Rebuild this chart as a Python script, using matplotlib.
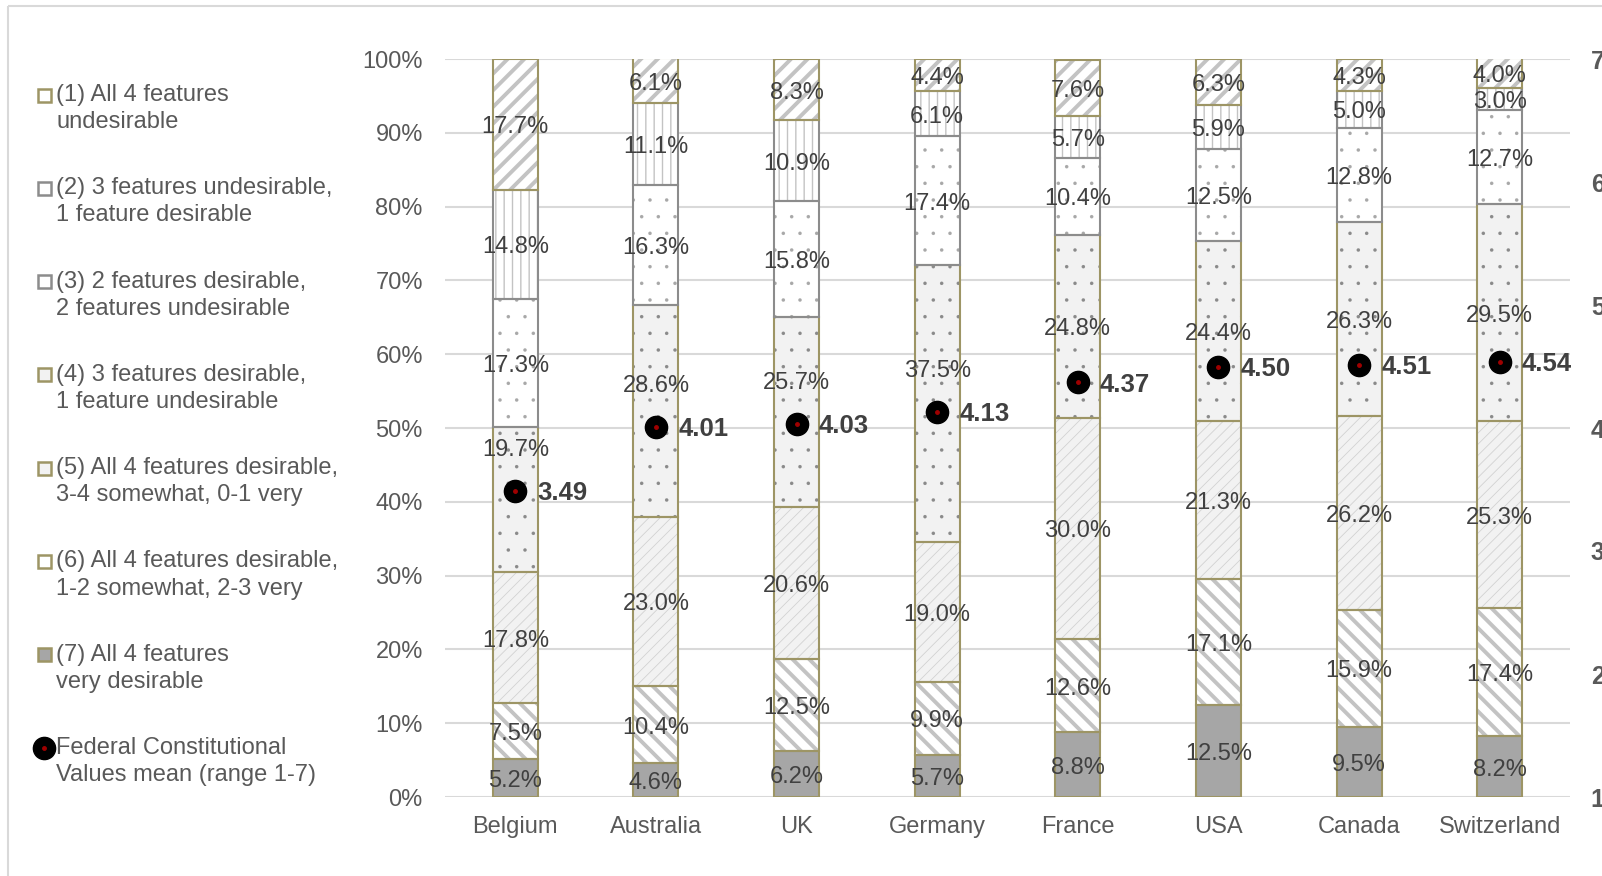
import numpy as np
import matplotlib
matplotlib.use("Agg")
import matplotlib.pyplot as plt
from matplotlib.patches import Rectangle

plt.rcParams['font.family'] = ['Liberation Sans', 'DejaVu Sans']

# Data (percent of respondents, stacked bottom -> top)
countries = ["Belgium", "Australia", "UK", "Germany", "France", "USA", "Canada", "Switzerland"]
all4_very = [5.2, 4.6, 6.2, 5.7, 8.8, 12.5, 9.5, 8.2]
all4_2to3_very = [7.5, 10.4, 12.5, 9.9, 12.6, 17.1, 15.9, 17.4]
all4_0to1_very = [17.8, 23.0, 20.6, 19.0, 30.0, 21.3, 26.2, 25.3]
three_desirable = [19.7, 28.6, 25.7, 37.5, 24.8, 24.4, 26.3, 29.5]
two_desirable = [17.3, 16.3, 15.8, 17.4, 10.4, 12.5, 12.8, 12.7]
one_desirable = [14.8, 11.1, 10.9, 6.1, 5.7, 5.9, 5.0, 3.0]
none_desirable = [17.7, 6.1, 8.3, 4.4, 7.6, 6.3, 4.3, 4.0]
means = [3.49, 4.01, 4.03, 4.13, 4.37, 4.50, 4.51, 4.54]

legend_labels = [
    "(1) All 4 features\nundesirable",
    "(2) 3 features undesirable,\n1 feature desirable",
    "(3) 2 features desirable,\n2 features undesirable",
    "(4) 3 features desirable,\n1 feature undesirable",
    "(5) All 4 features desirable,\n3-4 somewhat, 0-1 very",
    "(6) All 4 features desirable,\n1-2 somewhat, 2-3 very",
    "(7) All 4 features\nvery desirable",
    "Federal Constitutional\nValues mean (range 1-7)",
]

OLIVE = "#9d9565"
GRAY = "#8c8c8c"
TXT = "#404040"
TICK = "#595959"
FS = 17

# styles bottom -> top: (face, hatch, hatch colour, hatch lw, edge)
series = [all4_very, all4_2to3_very, all4_0to1_very, three_desirable,
          two_desirable, one_desirable, none_desirable]
styles = [
    ("#a6a6a6", None, "#a6a6a6", 1.0, OLIVE),
    ("white", "\\\\", "#c3c3c3", 2.8, OLIVE),
    ("#f2f2f2", "///", "#d2d2d2", 0.6, OLIVE),
    ("#f2f2f2", ".", "#8a8a8a", 0.1, OLIVE),
    ("white", ".", "#a8a8a8", 0.1, GRAY),
    ("white", "||", "#c3c3c3", 1.0, GRAY),
    ("white", "//", "#c3c3c3", 2.8, OLIVE),
]

fig = plt.figure(figsize=(16.02, 8.76), dpi=100)

# overlay in pixel coordinates for border and legend
ov = fig.add_axes([0, 0, 1, 1])
ov.set_xlim(0, 1602)
ov.set_ylim(876, 0)
ov.axis("off")
ov.add_patch(Rectangle((8, 6), 1700, 1000, fill=False, edgecolor="#d9d9d9", lw=1.5))

ax = fig.add_axes([445 / 1602, 1 - 797 / 876, 1125 / 1602, 738 / 876])
x = np.arange(len(countries))
width = 0.32

bottom = np.zeros(len(countries))
for vals, (face, hatch, hcol, hlw, edge) in zip(series, styles):
    vals = np.array(vals)
    with plt.rc_context({"hatch.linewidth": hlw}):
        bars = ax.bar(x, vals, width, bottom=bottom, color=face, edgecolor=hcol,
                      hatch=hatch, linewidth=0, zorder=2)
    for b in bars:
        if hasattr(b, "set_hatch_linewidth"):
            b.set_hatch_linewidth(hlw)
    ax.bar(x, vals, width, bottom=bottom, fill=False, edgecolor=edge, linewidth=1.5, zorder=3)
    bottom += vals

# segment labels
bottom = np.zeros(len(countries))
for k, vals in enumerate(series):
    for i, v in enumerate(vals):
        yc = bottom[i] + v / 2
        mean_pct = (means[i] - 1) / 6 * 100
        if k == 3 and abs(yc - mean_pct) < 3:
            yc = mean_pct + 6
        ax.annotate(f"{v:.1f}%", (x[i], yc), xytext=(0, -2.2), textcoords="offset points",
                    ha="center", va="center", fontsize=FS, color=TXT, zorder=5)
    bottom += np.array(vals)

ax.set_xlim(-0.5, len(countries) - 0.5)
ax.set_ylim(0, 100)
ax.set_yticks(np.arange(0, 101, 10))
ax.set_yticklabels([f"{t}%" for t in range(0, 101, 10)])
ax.set_xticks(x)
ax.set_xticklabels(countries)
ax.tick_params(axis="y", length=0, pad=16, labelsize=FS, labelcolor=TICK)
ax.tick_params(axis="x", length=0, pad=14, labelsize=FS, labelcolor=TICK)
ax.yaxis.grid(True, color="#d9d9d9", lw=1.5, zorder=0)
ax.set_axisbelow(True)
for s in ax.spines.values():
    s.set_visible(False)

# secondary axis for the mean values
ax2 = ax.twinx()
ax2.set_ylim(1, 7)
ax2.set_yticks(range(1, 8))
ax2.tick_params(axis="y", length=0, pad=15, labelsize=18, labelcolor=TICK)
for lab in ax2.get_yticklabels():
    lab.set_fontweight("bold")
for s in ax2.spines.values():
    s.set_visible(False)
ax2.plot(x, means, "o", color="black", ms=16, zorder=6)
ax2.plot(x, means, "o", color="#a00000", ms=2.5, zorder=7)
for i, m in enumerate(means):
    ax2.annotate(f"{m:.2f}", (x[i], m), xytext=(16, -1.5), textcoords="offset points",
                 ha="left", va="center", fontsize=18.5, fontweight="bold", color=TXT)

# legend (top -> bottom: category 1 ... 7, then mean)
leg_y0 = 95
leg_dy = 93.3
for j, label in enumerate(legend_labels):
    yy = leg_y0 + j * leg_dy
    if j < 7:
        face, hatch, hcol, hlw, edge = styles[6 - j]
        ov.add_patch(Rectangle((37.5, yy - 6.5), 13, 13, facecolor=face, edgecolor=edge, lw=1.8))
    else:
        ov.plot([44], [yy], "o", color="black", ms=16)
        ov.plot([44], [yy], "o", color="#a00000", ms=2.5)
    for n, line in enumerate(label.split("\n")):
        ov.text(56, yy + n * 27, line, ha="left", va="center", fontsize=FS, color=TICK)

fig.savefig("out.png", dpi=100)
